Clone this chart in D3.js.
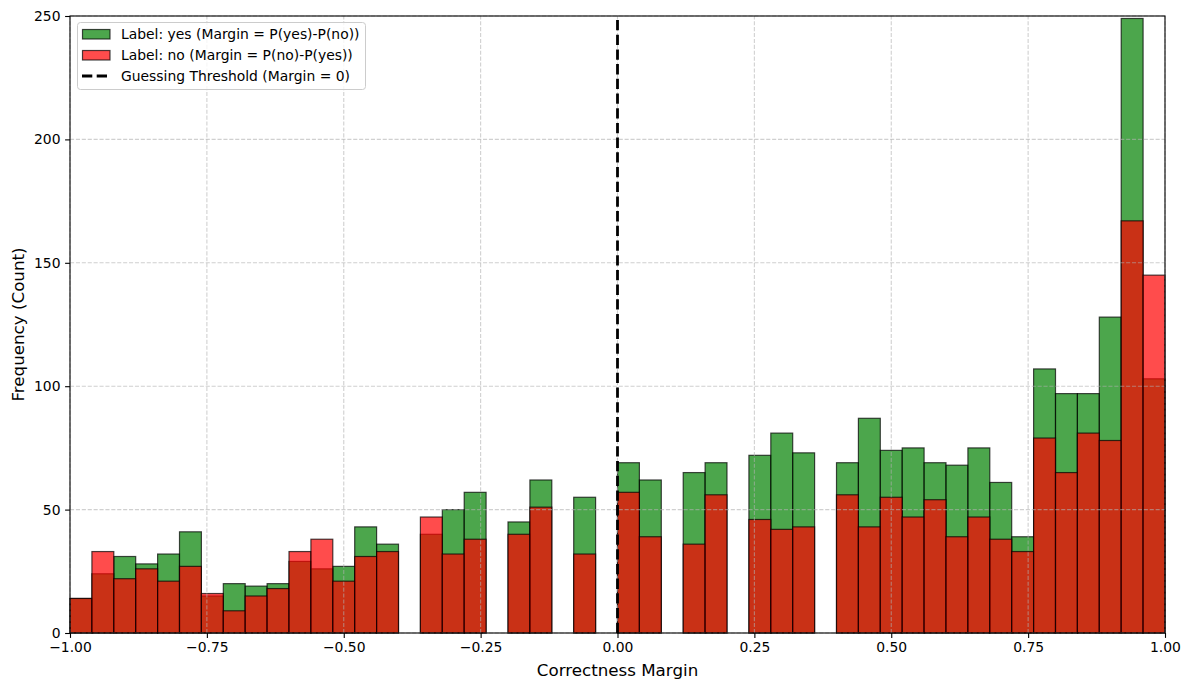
<!DOCTYPE html>
<html>
<head>
<meta charset="utf-8">
<script src="https://cdn.jsdelivr.net/npm/d3@7"></script>
<style>
  body { margin: 0; background: #fff; }
  text { font-family: "DejaVu Sans", sans-serif; }
</style>
</head>
<body>
<svg id="chart"></svg>
<script>
// histogram bins: 50 bins of width 0.04 from -1 to 1
const binEdges = d3.range(51).map(i => -1 + i * 0.04);
const yesCounts = [14, 24, 31, 28, 32, 41, 15, 20, 19, 20,
                   29, 26, 27, 43, 36, 0, 40, 50, 57, 0,
                   45, 62, 0, 55, 0, 69, 62, 0, 65, 69,
                   0, 72, 81, 73, 0, 69, 87, 74, 75, 69,
                   68, 75, 61, 39, 107, 97, 97, 128, 249, 103];
const noCounts  = [14, 33, 22, 26, 21, 27, 16, 9, 15, 18,
                   33, 38, 21, 31, 33, 0, 47, 32, 38, 0,
                   40, 51, 0, 32, 0, 57, 39, 0, 36, 56,
                   0, 46, 42, 43, 0, 56, 43, 55, 47, 54,
                   39, 47, 38, 33, 79, 65, 81, 78, 167, 145];
const xTicks = [-1, -0.75, -0.5, -0.25, 0, 0.25, 0.5, 0.75, 1];
const yTicks = [0, 50, 100, 150, 200, 250];
const seriesNames = ["Label: yes (Margin = P(yes)-P(no))", "Label: no (Margin = P(no)-P(yes))", "Guessing Threshold (Margin = 0)"];

const width = 1189, height = 690;
const margin = {left: 70, right: 24, top: 16, bottom: 57};

const svg = d3.select("#chart").attr("width", width).attr("height", height);

const x = d3.scaleLinear().domain([-1, 1]).range([margin.left, width - margin.right]);
const y = d3.scaleLinear().domain([0, 250]).range([height - margin.bottom, margin.top]);

function bars(counts, color) {
    const data = counts.map((c, i) => ({x0: binEdges[i], x1: binEdges[i + 1], c}));
    svg.append("g").selectAll("rect")
        .data(data.filter(d => d.c > 0))
        .join("rect")
        .attr("x", d => x(d.x0))
        .attr("width", d => x(d.x1) - x(d.x0))
        .attr("y", d => y(d.c))
        .attr("height", d => y(0) - y(d.c))
        .attr("fill", color)
        .attr("fill-opacity", 0.7)
        .attr("stroke", "#000")
        .attr("stroke-opacity", 0.7)
        .attr("stroke-width", 1.2);
}

bars(yesCounts, "#008000");
bars(noCounts, "#ff0000");

// grid on top of the bars, like matplotlib's default
const grid = svg.append("g");
grid.selectAll(".gx").data(xTicks).join("line")
    .attr("x1", d => x(d)).attr("x2", d => x(d))
    .attr("y1", y(0)).attr("y2", y(250));
grid.selectAll(".gy").data(yTicks).join("line")
    .attr("x1", x(-1)).attr("x2", x(1))
    .attr("y1", d => y(d)).attr("y2", d => y(d));
grid.selectAll("line")
    .attr("stroke", "#b0b0b0")
    .attr("stroke-opacity", 0.6)
    .attr("stroke-width", 1.1)
    .attr("stroke-dasharray", "4.1,1.8");

// guessing threshold
svg.append("line")
    .attr("x1", x(0)).attr("x2", x(0))
    .attr("y1", y(0)).attr("y2", y(250))
    .attr("stroke", "#000")
    .attr("stroke-width", 2.8)
    .attr("stroke-dasharray", "10.3,4.4");

// axes
const fmt = d => d3.format(".2f")(d).replace("-", "\u2212");
const xAxis = svg.append("g")
    .attr("transform", `translate(0,${y(0)})`)
    .call(d3.axisBottom(x).tickValues(xTicks).tickFormat(fmt).tickSize(4.9).tickPadding(4.6));
const yAxis = svg.append("g")
    .attr("transform", `translate(${x(-1)},0)`)
    .call(d3.axisLeft(y).tickValues(yTicks).tickSize(4.9).tickPadding(4.6));
[xAxis, yAxis].forEach(a => {
    a.select(".domain").remove();
    a.selectAll("text").attr("font-size", "13.9px").attr("fill", "#000").attr("font-family", "DejaVu Sans");
    a.selectAll("line").attr("stroke", "#000").attr("stroke-width", 1.1);
});

// frame
svg.append("rect")
    .attr("x", x(-1)).attr("y", y(250))
    .attr("width", x(1) - x(-1)).attr("height", y(0) - y(250))
    .attr("fill", "none").attr("stroke", "#000").attr("stroke-width", 1.1);

svg.append("text")
    .attr("x", (x(-1) + x(1)) / 2).attr("y", 676)
    .attr("text-anchor", "middle").attr("font-size", "16.7px")
    .text("Correctness Margin");
svg.append("text")
    .attr("transform", `translate(24,${(y(0) + y(250)) / 2}) rotate(-90)`)
    .attr("text-anchor", "middle").attr("font-size", "16.7px")
    .text("Frequency (Count)");

// legend
const lg = svg.append("g");
lg.append("rect")
    .attr("x", 77.5).attr("y", 22.5).attr("width", 288).attr("height", 67)
    .attr("rx", 3)
    .attr("fill", "#fff").attr("fill-opacity", 0.8)
    .attr("stroke", "#ccc").attr("stroke-width", 1);
const rows = [{c: "#008000"}, {c: "#ff0000"}, {line: true}];
rows.forEach((r, i) => {
    const cy = 34 + i * 21;
    if (r.line) {
        lg.append("line")
            .attr("x1", 82).attr("x2", 110).attr("y1", cy).attr("y2", cy)
            .attr("stroke", "#000").attr("stroke-width", 2.8)
            .attr("stroke-dasharray", "10.3,4.4");
    } else {
        lg.append("rect")
            .attr("x", 82.5).attr("y", cy - 4.5).attr("width", 27.5).attr("height", 9.5)
            .attr("fill", r.c).attr("fill-opacity", 0.7)
            .attr("stroke", "#000").attr("stroke-opacity", 0.7).attr("stroke-width", 1.2);
    }
    lg.append("text")
        .attr("x", 121).attr("y", cy).attr("dy", "0.35em")
        .attr("font-size", "13.9px")
        .text(seriesNames[i]);
});
</script>
</body>
</html>
